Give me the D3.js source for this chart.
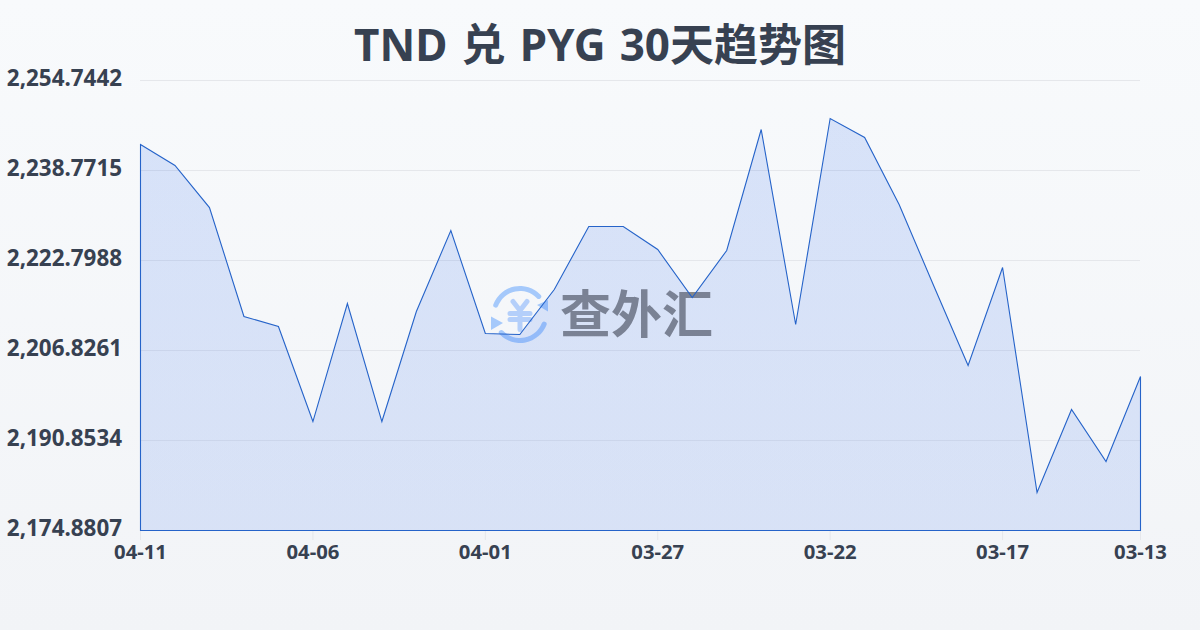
<!DOCTYPE html>
<html>
<head>
<meta charset="utf-8">
<script src="https://cdn.jsdelivr.net/npm/d3@7"></script>
<style>
  html, body { margin: 0; padding: 0; }
  svg { display: block; }
  text { font-family: "Noto Sans", "Noto Sans CJK SC", sans-serif; }
</style>
</head>
<body>
<div id="vizcontainer"></div>
<script>
const width = 1200,
  height = 630;

const titleText = 'TND 兑 PYG 30天趋势图';
const dates = ['04-11','04-10','04-09','04-08','04-07','04-06','04-05','04-04','04-03','04-02',
  '04-01','03-31','03-30','03-29','03-28','03-27','03-26','03-25','03-24','03-23',
  '03-22','03-21','03-20','03-19','03-18','03-17','03-16','03-15','03-14','03-13'];
const rates = [2243.38,2239.66,2232.20,2212.86,2211.08,2194.22,2215.17,2194.22,2213.75,2228.12,
  2209.84,2209.66,2217.65,2228.83,2228.83,2224.75,2216.23,2224.57,2246.05,2211.44,
  2248.00,2244.63,2232.74,2218.36,2204.16,2221.55,2181.62,2196.35,2187.13,2202.21];
const yTicks = [2174.8807,2190.8534,2206.8261,2222.7988,2238.7715,2254.7442];
const xTicks = ['04-11','04-06','04-01','03-27','03-22','03-17','03-13'];

const margin = { left: 140, right: 60, top: 80, bottom: 100 };

const x = d3.scalePoint()
  .domain(dates)
  .range([margin.left, width - margin.right]);

const y = d3.scaleLinear()
  .domain([yTicks[0], yTicks[yTicks.length - 1]])
  .range([height - margin.bottom, margin.top]);

const viz = d3.select('#vizcontainer')
  .append('svg')
  .attr('width', width)
  .attr('height', height);

const defs = viz.append('defs');

const bg = defs.append('linearGradient')
  .attr('id', 'bg').attr('x1', 0).attr('y1', 0).attr('x2', 0).attr('y2', 1);
bg.append('stop').attr('offset', '0%').attr('stop-color', '#f8fafc');
bg.append('stop').attr('offset', '100%').attr('stop-color', '#f2f4f7');

const fill = defs.append('linearGradient')
  .attr('id', 'fill').attr('x1', 0).attr('y1', 0).attr('x2', 0).attr('y2', 1);
fill.append('stop').attr('offset', '0%').attr('stop-color', '#2563eb').attr('stop-opacity', 0.15);
fill.append('stop').attr('offset', '100%').attr('stop-color', '#2563eb').attr('stop-opacity', 0.13);

viz.append('rect')
  .attr('width', width)
  .attr('height', height)
  .attr('fill', 'url(#bg)');

viz.append('text')
  .attr('x', 600)
  .attr('y', 61)
  .attr('text-anchor', 'middle')
  .attr('font-size', 44)
  .attr('font-weight', 700)
  .attr('word-spacing', 2.7)
  .attr('fill', '#374151')
  .text(titleText);

// grid + y labels
const yAxis = viz.append('g')
  .attr('transform', `translate(${margin.left},0)`)
  .call(d3.axisLeft(y)
    .tickValues(yTicks)
    .tickSize(-(width - margin.left - margin.right))
    .tickPadding(18)
    .tickFormat(d3.format(',.4f')));
yAxis.select('.domain').remove();
yAxis.selectAll('.tick line').attr('stroke', '#e5e7eb').attr('stroke-width', 1);
yAxis.selectAll('.tick text')
  .attr('font-size', 22.4)
  .attr('font-weight', 700)
  .attr('fill', '#374151')
  .attr('dy', '0.26em');

// x axis
const xAxis = viz.append('g')
  .attr('transform', `translate(0,${height - margin.bottom})`)
  .call(d3.axisBottom(x)
    .tickValues(xTicks)
    .tickSize(10)
    .tickPadding(5));
xAxis.select('.domain').remove();
xAxis.selectAll('.tick line').attr('stroke', '#e5e7eb');
xAxis.selectAll('.tick text')
  .attr('font-size', 20.3)
  .attr('font-weight', 700)
  .attr('fill', '#374151');

// area
const area = d3.area()
  .x((d, i) => x(dates[i]) + 0.5)
  .y0(y(yTicks[0]) + 0.5)
  .y1(d => y(d) + 0.5);

// watermark, sits under the area so colours are lighter than they end up
const mark = viz.append('g').attr('class', 'watermark');
const logo = mark.append('g').attr('transform', 'translate(520,314.5)');
const arc = d3.arc().innerRadius(23.5).outerRadius(28.5).cornerRadius(2.5);
logo.append('path')
  .attr('d', arc({ startAngle: -1.3, endAngle: 0.9 }))
  .attr('fill', '#a5c9fb');
logo.append('path')
  .attr('d', arc({ startAngle: 1.85, endAngle: 4.04 }))
  .attr('fill', '#a5c9fb');
logo.append('path').attr('d', 'M28,-14.5 L28,-3 L17,-9.5 Z').attr('fill', '#a5c9fb');
logo.append('path').attr('d', 'M-29,2 L-29,15.5 L-17,8.5 Z').attr('fill', '#a5c9fb');
logo.append('path')
  .attr('d', 'M-7,-13 L0,-4 L7,-13 M-10,-1 L10,-1 M-10,5 L10,5 M0,-4 L0,15')
  .attr('fill', 'none')
  .attr('stroke', '#b4cffa')
  .attr('stroke-width', 5)
  .attr('stroke-linecap', 'round')
  .attr('stroke-linejoin', 'round');
mark.append('text')
  .attr('x', 560)
  .attr('y', 333)
  .attr('font-size', 51)
  .attr('font-weight', 700)
  .attr('fill', '#888786')
  .style('font-family', '"Noto Sans CJK SC"')
  .text('查外汇');

viz.append('path')
  .datum(rates)
  .attr('d', area)
  .attr('fill', 'url(#fill)')
  .attr('stroke', '#2563c9')
  .attr('stroke-width', 1.1);
</script>
</body>
</html>
